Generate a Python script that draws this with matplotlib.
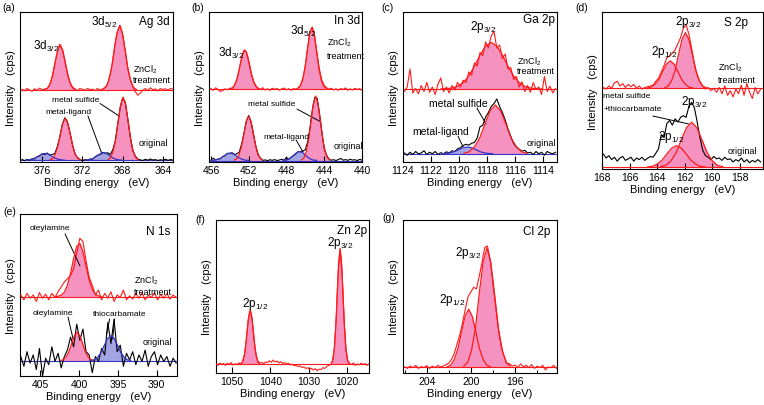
import numpy as np
import matplotlib as mpl
import matplotlib.pyplot as plt

mpl.rcParams['font.family'] = ['Liberation Sans', 'DejaVu Sans']
mpl.rcParams['mathtext.fontset'] = 'custom'
mpl.rcParams['mathtext.rm'] = 'Liberation Sans'

RED = '#ff1a1a'
PINK = '#f592c0'
BLUE = '#3535c8'
LBLUE = '#a3a4e2'

####################
# (a) Ag 3d        #
####################
ag_range = (378.0, 363.0)
ag_zn = [0.485, 0.475, 0.49, 0.48, 0.472, 0.488, 0.478, 0.492, 0.482, 0.486,
         0.49, 0.515, 0.57, 0.655, 0.735, 0.785, 0.75, 0.675, 0.60, 0.535,
         0.50, 0.488, 0.476, 0.49, 0.485, 0.478, 0.49, 0.482, 0.486, 0.476,
         0.49, 0.48, 0.487, 0.497, 0.52, 0.58, 0.665, 0.79, 0.875, 0.91,
         0.85, 0.745, 0.63, 0.55, 0.505, 0.47, 0.445, 0.46, 0.478, 0.49,
         0.476, 0.495, 0.482, 0.487, 0.475, 0.49, 0.483, 0.488, 0.478, 0.49, 0.485]
ag_org = [0.018, 0.008, 0.016, 0.012, 0.022, 0.02, 0.036, 0.04, 0.055, 0.05,
          0.06, 0.046, 0.05, 0.055, 0.1, 0.165, 0.25, 0.295, 0.27, 0.2,
          0.12, 0.055, 0.03, 0.018, 0.008, 0.016, 0.012, 0.02, 0.018, 0.034,
          0.045, 0.05, 0.065, 0.058, 0.062, 0.05, 0.078, 0.135, 0.25, 0.36,
          0.428, 0.40, 0.29, 0.172, 0.078, 0.04, 0.02, 0.014, 0.01, 0.018,
          0.012, 0.02, 0.013, 0.016, 0.01, 0.015, 0.012, 0.018, 0.011, 0.016, 0.013]
ag_zn_base, ag_org_base = 0.48, 0.012
ag_zn_32 = ((375.7, 372.7), [0.483, 0.492, 0.522, 0.576, 0.663, 0.744, 0.78, 0.744, 0.663, 0.576, 0.522, 0.492, 0.483])
ag_zn_52 = ((369.95, 366.65), [0.484, 0.497, 0.540, 0.618, 0.742, 0.858, 0.91, 0.858, 0.742, 0.618, 0.540, 0.497, 0.484])
ag_lig_32 = ((377.65, 373.75), [0.012, 0.014, 0.018, 0.026, 0.039, 0.052, 0.057, 0.052, 0.039, 0.026, 0.018, 0.014, 0.012])
ag_sul_32 = ((375.2, 372.2), [0.015, 0.023, 0.051, 0.102, 0.183, 0.258, 0.292, 0.258, 0.183, 0.102, 0.051, 0.023, 0.015])
ag_lig_52 = ((371.7, 368.1), [0.013, 0.014, 0.019, 0.028, 0.043, 0.056, 0.062, 0.056, 0.043, 0.028, 0.019, 0.014, 0.013])
ag_sul_52 = ((369.45, 366.45), [0.016, 0.029, 0.071, 0.146, 0.268, 0.382, 0.432, 0.382, 0.268, 0.146, 0.071, 0.029, 0.016])

####################
# (b) In 3d        #
####################
in_range = (456.0, 440.0)
in_zn = [0.49, 0.478, 0.495, 0.482, 0.47, 0.476, 0.488, 0.481, 0.492, 0.488,
         0.512, 0.55, 0.62, 0.695, 0.745, 0.735, 0.67, 0.595, 0.54, 0.508,
         0.49, 0.485, 0.495, 0.48, 0.488, 0.478, 0.492, 0.484, 0.49, 0.479,
         0.487, 0.493, 0.481, 0.489, 0.478, 0.49, 0.485, 0.495, 0.512, 0.56,
         0.645, 0.765, 0.87, 0.9, 0.83, 0.715, 0.615, 0.545, 0.51, 0.495,
         0.485, 0.492, 0.48, 0.488, 0.478, 0.49, 0.483, 0.494, 0.479, 0.488,
         0.48, 0.491, 0.484, 0.489, 0.478]
in_org = [0.012, 0.025, 0.014, 0.02, 0.022, 0.036, 0.042, 0.058, 0.056, 0.062,
          0.05, 0.055, 0.065, 0.118, 0.19, 0.272, 0.31, 0.268, 0.185, 0.108,
          0.048, 0.025, 0.01, 0.014, 0.009, 0.015, 0.011, 0.016, 0.01, 0.013,
          0.018, 0.012, 0.03, 0.018, 0.032, 0.042, 0.055, 0.07, 0.068, 0.073,
          0.082, 0.135, 0.228, 0.35, 0.43, 0.425, 0.32, 0.2, 0.09, 0.045,
          0.02, 0.012, 0.015, 0.01, 0.016, 0.024, 0.012, 0.016, 0.011, 0.018,
          0.013, 0.015, 0.01, 0.017, 0.013]
in_zn_base, in_org_base = 0.487, 0.01
in_zn_32 = ((453.9, 450.9), [0.490, 0.497, 0.523, 0.570, 0.646, 0.716, 0.747, 0.716, 0.646, 0.570, 0.523, 0.497, 0.490])
in_zn_52 = ((446.8, 443.8), [0.491, 0.503, 0.544, 0.618, 0.737, 0.848, 0.897, 0.848, 0.737, 0.618, 0.544, 0.503, 0.491])
in_lig_32 = ((455.9, 452.0), [0.011, 0.012, 0.017, 0.026, 0.041, 0.054, 0.06, 0.054, 0.041, 0.026, 0.017, 0.012, 0.011])
in_sul_32 = ((453.5, 450.5), [0.013, 0.022, 0.051, 0.104, 0.19, 0.27, 0.305, 0.27, 0.19, 0.104, 0.051, 0.022, 0.013])
in_lig_52 = ((448.4, 444.8), [0.011, 0.012, 0.018, 0.029, 0.047, 0.063, 0.07, 0.063, 0.047, 0.029, 0.018, 0.012, 0.011])
in_sul_52 = ((446.4, 443.4), [0.014, 0.027, 0.07, 0.148, 0.272, 0.388, 0.44, 0.388, 0.272, 0.148, 0.07, 0.027, 0.014])

####################
# (c) Ga 2p        #
####################
ga_range = (1123.9, 1113.1)
ga_zn = [0.47, 0.50, 0.62, 0.46, 0.49, 0.455, 0.51, 0.47, 0.53, 0.465,
         0.50, 0.45, 0.52, 0.56, 0.47, 0.50, 0.46, 0.51, 0.48, 0.53,
         0.50, 0.545, 0.53, 0.60, 0.58, 0.66, 0.64, 0.73, 0.71, 0.80,
         0.76, 0.84, 0.87, 0.76, 0.78, 0.69, 0.72, 0.62, 0.63, 0.55,
         0.57, 0.50, 0.535, 0.47, 0.51, 0.465, 0.53, 0.485, 0.50, 0.45,
         0.57, 0.47, 0.505, 0.46, 0.49]
ga_org = [0.06, 0.045, 0.065, 0.05, 0.07, 0.055, 0.06, 0.075, 0.05, 0.065,
          0.055, 0.07, 0.05, 0.062, 0.055, 0.068, 0.06, 0.075, 0.07, 0.088,
          0.095, 0.11, 0.118, 0.112, 0.125, 0.13, 0.16, 0.235, 0.245, 0.30,
          0.33, 0.37, 0.39, 0.42, 0.37, 0.33, 0.28, 0.22, 0.17, 0.125,
          0.10, 0.085, 0.072, 0.078, 0.06, 0.065, 0.05, 0.07, 0.055, 0.065,
          0.045, 0.07, 0.06, 0.055, 0.065]
ga_zn_base, ga_org_base = 0.487, 0.055
ga_zn_32 = ((1121.3, 1114.1), [0.487, 0.489, 0.493, 0.504, 0.529, 0.573, 0.638, 0.712, 0.773, 0.797,
                               0.773, 0.712, 0.638, 0.573, 0.529, 0.504, 0.493, 0.489, 0.487])
ga_sul_32 = ((1119.65, 1115.15), [0.058, 0.068, 0.101, 0.159, 0.253, 0.341, 0.38, 0.341, 0.253, 0.159, 0.101, 0.068, 0.058])
ga_lig_32 = ((1121.2, 1117.6), [0.055, 0.057, 0.061, 0.069, 0.082, 0.095, 0.10, 0.095, 0.082, 0.069, 0.061, 0.057, 0.055])

####################
# (d) S 2p         #
####################
s_range = (167.9, 156.5)
s_zn = [0.52, 0.51, 0.53, 0.515, 0.55, 0.56, 0.53, 0.545, 0.52, 0.54,
        0.525, 0.54, 0.515, 0.53, 0.51, 0.52, 0.525, 0.53, 0.535, 0.56,
        0.58, 0.62, 0.66, 0.71, 0.72, 0.74, 0.76, 0.80, 0.84, 0.90,
        0.92, 0.86, 0.77, 0.67, 0.60, 0.555, 0.53, 0.51, 0.52, 0.50,
        0.515, 0.49, 0.52, 0.48, 0.53, 0.47, 0.50, 0.46, 0.51, 0.48,
        0.535, 0.47, 0.545, 0.49, 0.45, 0.52, 0.48, 0.51]
s_org = [0.095, 0.07, 0.085, 0.06, 0.075, 0.05, 0.07, 0.08, 0.055, 0.065,
         0.075, 0.05, 0.07, 0.06, 0.075, 0.055, 0.068, 0.08, 0.075, 0.10,
         0.13, 0.22, 0.20, 0.29, 0.31, 0.28, 0.32, 0.30, 0.33, 0.34,
         0.33, 0.40, 0.425, 0.39, 0.30, 0.20, 0.12, 0.085, 0.075, 0.06,
         0.08, 0.065, 0.07, 0.055, 0.075, 0.06, 0.065, 0.045, 0.06, 0.05,
         0.07, 0.045, 0.06, 0.04, 0.055, 0.045, 0.06, 0.045]
s_zn_base, s_org_base = 0.515, 0.012
s_zn_32 = ((163.45, 160.45), [0.519, 0.529, 0.565, 0.629, 0.732, 0.827, 0.87, 0.827, 0.732, 0.629, 0.565, 0.529, 0.519])
s_zn_12 = ((164.7, 161.4), [0.517, 0.522, 0.54, 0.571, 0.622, 0.669, 0.69, 0.669, 0.622, 0.571, 0.54, 0.522, 0.517])
s_org_32 = ((163.75, 159.25), [0.015, 0.023, 0.052, 0.104, 0.186, 0.264, 0.298, 0.264, 0.186, 0.104, 0.052, 0.023, 0.015])
s_org_12 = ((164.7, 160.5), [0.013, 0.017, 0.031, 0.056, 0.096, 0.133, 0.149, 0.133, 0.096, 0.056, 0.031, 0.017, 0.013])

####################
# (e) N 1s         #
####################
n_range = (407.5, 387.5)
n_zn = [0.50, 0.47, 0.51, 0.48, 0.50, 0.46, 0.515, 0.48, 0.505, 0.47,
        0.51, 0.485, 0.52, 0.55, 0.58, 0.60, 0.62, 0.66, 0.76, 0.85,
        0.83, 0.71, 0.61, 0.56, 0.50, 0.53, 0.47, 0.51, 0.48, 0.52,
        0.46, 0.50, 0.485, 0.53, 0.47, 0.495, 0.475, 0.51, 0.48, 0.515,
        0.47, 0.50, 0.485, 0.515, 0.47, 0.505, 0.48, 0.51, 0.475, 0.50, 0.485]
n_org = [0.12, 0.06, 0.15, 0.08, 0.13, 0.04, 0.17, 0.0, 0.11, 0.07,
         0.18, 0.09, 0.14, 0.05, 0.12, 0.16, 0.24, 0.18, 0.32, 0.22,
         0.29, 0.15, 0.13, 0.02, 0.12, 0.09, 0.17, 0.13, 0.33, 0.2,
         0.35, 0.15, 0.19, 0.06, 0.14, 0.1, 0.15, 0.07, 0.13, 0.09,
         0.16, 0.06, 0.12, 0.15, 0.07, 0.13, 0.09, 0.12, 0.06, 0.11, 0.08]
n_zn_base, n_org_base = 0.49, 0.094
n_zn_ole = ((403.1, 397.1), [0.49, 0.492, 0.499, 0.517, 0.56, 0.633, 0.725, 0.80, 0.818, 0.767,
                             0.678, 0.592, 0.535, 0.505, 0.494, 0.49])
n_org_ole = ((402.35, 398.15), [0.096, 0.101, 0.119, 0.150, 0.201, 0.249, 0.27, 0.249, 0.201, 0.150, 0.119, 0.101, 0.096])
n_org_thio = ((398.45, 393.35), [0.096, 0.1, 0.116, 0.144, 0.189, 0.231, 0.25, 0.231, 0.189, 0.144, 0.116, 0.1, 0.096])

####################
# (f) Zn 2p        #
####################
zn_range = (1054.25, 1014.25)
zn_data = [0.06, 0.05, 0.065, 0.055, 0.062, 0.05, 0.064, 0.056, 0.068, 0.052,
           0.06, 0.055, 0.066, 0.06, 0.075, 0.12, 0.225, 0.35, 0.41, 0.35,
           0.22, 0.12, 0.078, 0.065, 0.07, 0.06, 0.072, 0.068, 0.08, 0.07,
           0.085, 0.072, 0.078, 0.066, 0.074, 0.062, 0.068, 0.058, 0.064, 0.052,
           0.058, 0.048, 0.05, 0.042, 0.046, 0.036, 0.04, 0.03, 0.035, 0.024,
           0.03, 0.02, 0.028, 0.015, 0.025, 0.022, 0.035, 0.03, 0.042, 0.05,
           0.055, 0.075, 0.16, 0.37, 0.66, 0.81, 0.66, 0.37, 0.16, 0.08,
           0.062, 0.055, 0.065, 0.05, 0.06, 0.053, 0.064, 0.055, 0.062, 0.05, 0.058]
zn_base = 0.058
zn_12 = ((1047.65, 1042.85), [0.062, 0.072, 0.108, 0.172, 0.275, 0.370, 0.413, 0.370, 0.275, 0.172, 0.108, 0.072, 0.062])
zn_32 = ((1024.0, 1019.5), [0.066, 0.088, 0.164, 0.300, 0.519, 0.722, 0.813, 0.722, 0.519, 0.300, 0.164, 0.088, 0.066])

####################
# (g) Cl 2p        #
####################
cl_range = (206.0, 192.25)
cl_data = [0.04, 0.03, 0.045, 0.035, 0.05, 0.03, 0.042, 0.036, 0.048, 0.03,
           0.045, 0.035, 0.05, 0.04, 0.045, 0.055, 0.065, 0.09, 0.13, 0.19,
           0.25, 0.33, 0.42, 0.5, 0.53, 0.56, 0.55, 0.63, 0.72, 0.82,
           0.83, 0.74, 0.58, 0.43, 0.28, 0.17, 0.11, 0.065, 0.06, 0.045,
           0.052, 0.035, 0.06, 0.04, 0.05, 0.035, 0.055, 0.03, 0.045, 0.035,
           0.05, 0.02, 0.04, 0.035, 0.05, 0.03]
cl_base = 0.037
cl_12 = ((202.15, 198.25), [0.041, 0.052, 0.090, 0.159, 0.269, 0.371, 0.417, 0.371, 0.269, 0.159, 0.090, 0.052, 0.041])
cl_32 = ((200.65, 196.45), [0.045, 0.068, 0.146, 0.287, 0.513, 0.723, 0.817, 0.723, 0.513, 0.287, 0.146, 0.068, 0.045])


# helpers
def spectrum(ax, rng, y, color):
    x = np.linspace(rng[0], rng[1], len(y))
    ax.plot(x, y, color=color, lw=0.8, zorder=3)


def peak(ax, comp, base, fc, lc):
    x = np.linspace(comp[0][0], comp[0][1], len(comp[1]))
    ax.fill_between(x, base, comp[1], color=fc, lw=0, zorder=1)
    ax.plot(x, comp[1], color=lc, lw=0.9, zorder=4)


def style(ax, xlim, major, minor=None):
    ax.set_xlim(*xlim)
    ax.set_ylim(0, 1)
    ax.set_yticks([])
    ax.set_xticks(major)
    if minor is not None:
        ax.set_xticks(minor, minor=True)
    ax.tick_params(axis='x', which='major', direction='in', length=4, width=0.8,
                   labelsize=7.5, pad=2.5)
    ax.tick_params(axis='x', which='minor', direction='in', length=2.5, width=0.7)
    ax.set_xlabel('Binding energy   (eV)', fontsize=8, labelpad=1)
    ax.set_ylabel('Intensity   (cps)', fontsize=8, labelpad=3)
    for s in ax.spines.values():
        s.set_linewidth(0.8)


def txt(ax, x, y, s, size=6, ha='center'):
    ax.text(x, y, s, transform=ax.transAxes, fontsize=size, ha=ha, va='center', zorder=6)


def line(ax, p0, p1):
    ax.annotate('', xy=p1, xytext=p0, xycoords='axes fraction', textcoords='axes fraction',
                arrowprops=dict(arrowstyle='-', color='black', lw=0.7, shrinkA=0, shrinkB=0))


W, H = 764, 406
fig = plt.figure(figsize=(W / 100, H / 100), dpi=100)


def axes_px(left, top, width, height):
    return fig.add_axes([left / W, (H - top - height) / H, width / W, height / H])


SUB32 = r'$\mathregular{_{3/2}}$'
SUB52 = r'$\mathregular{_{5/2}}$'
SUB12 = r'$\mathregular{_{1/2}}$'
ZNCL = r'ZnCl$\mathregular{_2}$'

# (a)
ax = axes_px(20, 13, 153, 150)
ax.axhline(ag_zn_base, color=RED, lw=0.8, zorder=2)
ax.axhline(ag_org_base, color=BLUE, lw=0.8, zorder=2)
for c in (ag_zn_32, ag_zn_52):
    peak(ax, c, ag_zn_base, PINK, RED)
for c in (ag_lig_32, ag_lig_52):
    peak(ax, c, ag_org_base, LBLUE, BLUE)
for c in (ag_sul_32, ag_sul_52):
    peak(ax, c, ag_org_base, PINK, RED)
spectrum(ax, ag_range, ag_zn, RED)
spectrum(ax, ag_range, ag_org, 'black')
style(ax, (378.2, 363.0), [376, 372, 368, 364])
txt(ax, 0.17, 0.775, '3d' + SUB32, 8.5)
txt(ax, 0.55, 0.935, '3d' + SUB52, 8.5)
txt(ax, 0.98, 0.94, 'Ag 3d', 8.5, 'right')
txt(ax, 0.74, 0.62, ZNCL, 6.5, 'left')
txt(ax, 0.74, 0.547, 'treatment', 6.5, 'left')
txt(ax, 0.366, 0.42, 'metal sulfide', 6)
txt(ax, 0.314, 0.34, 'metal-ligand', 6)
line(ax, (0.523, 0.39), (0.647, 0.307))
line(ax, (0.444, 0.307), (0.536, 0.053))
txt(ax, 0.778, 0.133, 'original', 6.5, 'left')

# (b)
ax = axes_px(209, 13, 153, 150)
ax.axhline(in_zn_base, color=RED, lw=0.8, zorder=2)
ax.axhline(in_org_base, color=BLUE, lw=0.8, zorder=2)
for c in (in_zn_32, in_zn_52):
    peak(ax, c, in_zn_base, PINK, RED)
for c in (in_lig_32, in_lig_52):
    peak(ax, c, in_org_base, LBLUE, BLUE)
for c in (in_sul_32, in_sul_52):
    peak(ax, c, in_org_base, PINK, RED)
spectrum(ax, in_range, in_zn, RED)
spectrum(ax, in_range, in_org, 'black')
style(ax, (456.2, 440.0), [456, 452, 448, 444, 440])
txt(ax, 0.144, 0.733, '3d' + SUB32, 8.5)
txt(ax, 0.614, 0.88, '3d' + SUB52, 8.5)
txt(ax, 0.985, 0.947, 'In 3d', 8.5, 'right')
txt(ax, 0.771, 0.8, ZNCL, 6.5, 'left')
txt(ax, 0.771, 0.713, 'treatment', 6.5, 'left')
txt(ax, 0.412, 0.387, 'metal sulfide', 6)
txt(ax, 0.503, 0.173, 'metal-ligand', 6)
line(ax, (0.575, 0.353), (0.732, 0.267))
line(ax, (0.569, 0.147), (0.614, 0.067))
txt(ax, 0.817, 0.107, 'original', 6.5, 'left')

# (c)
ax = axes_px(403, 13, 154, 150)
ax.axhline(ga_zn_base, color=RED, lw=0.8, zorder=2)
ax.axhline(ga_org_base, color=BLUE, lw=0.8, zorder=2)
peak(ax, ga_zn_32, ga_zn_base, PINK, RED)
peak(ax, ga_lig_32, ga_org_base, LBLUE, BLUE)
peak(ax, ga_sul_32, ga_org_base, PINK, RED)
spectrum(ax, ga_range, ga_zn, RED)
spectrum(ax, ga_range, ga_org, 'black')
style(ax, (1124.0, 1113.0), [1124, 1122, 1120, 1118, 1116, 1114])
txt(ax, 0.519, 0.907, '2p' + SUB32, 8.5)
txt(ax, 0.985, 0.953, 'Ga 2p', 8.5, 'right')
txt(ax, 0.74, 0.673, ZNCL, 6.5, 'left')
txt(ax, 0.74, 0.607, 'treatment', 6.5, 'left')
txt(ax, 0.357, 0.393, 'metal sulfide', 7.5)
txt(ax, 0.247, 0.207, 'metal-ligand', 7.5)
line(ax, (0.48, 0.36), (0.539, 0.253))
line(ax, (0.357, 0.173), (0.39, 0.1))
txt(ax, 0.805, 0.133, 'original', 6.5, 'left')

# (d)
ax = axes_px(602, 13.3, 160.7, 156.7)
ax.axhline(s_zn_base, color=RED, lw=0.8, zorder=2)
ax.axhline(s_org_base, color=RED, lw=0.8, zorder=2)
for c in (s_zn_12, s_zn_32):
    peak(ax, c, s_zn_base, PINK, RED)
for c in (s_org_12, s_org_32):
    peak(ax, c, s_org_base, PINK, RED)
spectrum(ax, s_range, s_zn, RED)
spectrum(ax, s_range, s_org, 'black')
style(ax, (168.0, 156.35), [168, 166, 164, 162, 160, 158])
txt(ax, 0.535, 0.945, '2p' + SUB32, 8.5)
txt(ax, 0.909, 0.938, 'S 2p', 8.5, 'right')
txt(ax, 0.386, 0.753, '2p' + SUB12, 8.5)
txt(ax, 0.722, 0.651, ZNCL, 6.5, 'left')
txt(ax, 0.722, 0.574, 'treatment', 6.5, 'left')
txt(ax, 0.006, 0.472, 'metal sulfide', 6, 'left')
txt(ax, 0.012, 0.383, '+thiocarbamate', 6, 'left')
line(ax, (0.317, 0.338), (0.541, 0.287))
txt(ax, 0.573, 0.434, '2p' + SUB32, 8.5)
txt(ax, 0.429, 0.21, '2p' + SUB12, 8.5)
txt(ax, 0.784, 0.115, 'original', 6.5, 'left')

# (e)
ax = axes_px(20, 215, 157, 162)
ax.axhline(n_zn_base, color=RED, lw=0.8, zorder=2)
ax.axhline(n_org_base, color=BLUE, lw=0.8, zorder=2)
peak(ax, n_zn_ole, n_zn_base, PINK, RED)
peak(ax, n_org_ole, n_org_base, PINK, RED)
peak(ax, n_org_thio, n_org_base, LBLUE, BLUE)
spectrum(ax, n_range, n_zn, RED)
spectrum(ax, n_range, n_org, 'black')
style(ax, (407.6, 387.4), [405, 400, 395, 390])
txt(ax, 0.191, 0.914, 'oleylamine', 6)
line(ax, (0.287, 0.877), (0.382, 0.679))
txt(ax, 0.955, 0.895, 'N 1s', 8.5, 'right')
txt(ax, 0.726, 0.593, ZNCL, 6.5, 'left')
txt(ax, 0.726, 0.519, 'treatment', 6.5, 'left')
txt(ax, 0.21, 0.395, 'oleylamine', 6)
line(ax, (0.306, 0.364), (0.338, 0.228))
txt(ax, 0.637, 0.383, 'thiocarbamate', 6)
line(ax, (0.571, 0.352), (0.55, 0.25))
line(ax, (0.603, 0.352), (0.59, 0.228))
txt(ax, 0.783, 0.216, 'original', 6.5, 'left')

# (f)
ax = axes_px(216, 221, 153, 153)
ax.axhline(zn_base, color=RED, lw=0.8, zorder=2)
for c in (zn_12, zn_32):
    peak(ax, c, zn_base, PINK, RED)
spectrum(ax, zn_range, zn_data, RED)
style(ax, (1054.2, 1014.2), [1050, 1040, 1030, 1020])
txt(ax, 0.985, 0.935, 'Zn 2p', 8.5, 'right')
txt(ax, 0.81, 0.856, '2p' + SUB32, 8.5)
txt(ax, 0.255, 0.458, '2p' + SUB12, 8.5)

# (g)
ax = axes_px(403, 221, 154, 153)
ax.axhline(cl_base, color=RED, lw=0.8, zorder=2)
for c in (cl_12, cl_32):
    peak(ax, c, cl_base, PINK, RED)
spectrum(ax, cl_range, cl_data, RED)
style(ax, (206.15, 192.2), [204, 200, 196], [206, 202, 198, 194])
txt(ax, 0.955, 0.928, 'Cl 2p', 8.5, 'right')
txt(ax, 0.422, 0.791, '2p' + SUB32, 8.5)
txt(ax, 0.318, 0.484, '2p' + SUB12, 8.5)

# panel letters
for lab, px, py in [('(a)', 2, 8), ('(b)', 191, 8), ('(c)', 381, 8), ('(d)', 575, 8),
                    ('(e)', 3, 212), ('(f)', 195, 220), ('(g)', 382, 218)]:
    fig.text(px / W, 1 - py / H, lab, fontsize=7.5, ha='left', va='center')

fig.savefig('out.png', dpi=100)
